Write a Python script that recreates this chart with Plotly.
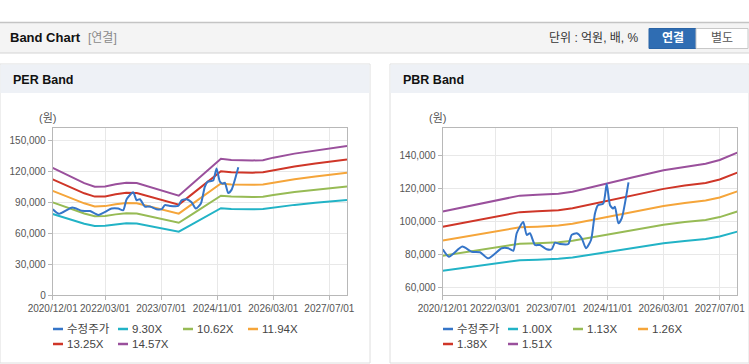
import plotly.graph_objects as go

W, H = 749, 364

# ---------------- data ----------------
price_dates = ["2020-12-01", "2021-01-25", "2021-05-20", "2021-08-10", "2021-10-21", "2022-01-01",
               "2022-04-27", "2022-06-23", "2022-08-06", "2022-09-04", "2022-10-31", "2022-11-30",
               "2022-12-28", "2023-02-10", "2023-03-25", "2023-05-22", "2023-07-05", "2023-08-02",
               "2023-09-15", "2023-11-26", "2023-12-25", "2024-02-07", "2024-03-21", "2024-04-27",
               "2024-06-10", "2024-07-14", "2024-08-09", "2024-09-24", "2024-10-24", "2024-11-22",
               "2024-12-18", "2025-01-04", "2025-02-02", "2025-03-03", "2025-05-01"]
price_values = [83300, 78800, 84900, 81800, 81500, 77800,
                83900, 83900, 82400, 93000, 99800, 92000,
                93000, 85900, 85900, 83300, 83300, 87300,
                86500, 86500, 92000, 93000, 90000, 83900,
                88900, 105000, 110000, 111000, 122800, 110000,
                108000, 109000, 99000, 102000, 123800]

per_band_dates = ["2020-12-01", "2021-03-01", "2021-06-01", "2021-09-01", "2021-12-01", "2022-03-01",
                  "2022-06-01", "2022-09-01", "2022-12-01", "2023-03-01", "2023-06-01", "2023-09-01",
                  "2023-12-01", "2024-03-01", "2024-06-01", "2024-09-01", "2024-12-01", "2025-03-01",
                  "2025-06-01", "2025-09-01", "2025-12-01", "2026-03-01", "2026-09-01", "2027-03-01",
                  "2027-09-01", "2027-12-01"]
per_930 = [78700, 75500, 72400, 69300, 67000, 67200, 68600, 69600, 69400, 67400, 65400, 63400,
           61500, 67200, 72900, 78600, 84300, 83600, 83300, 83300, 83500, 85000, 87500, 89500,
           91500, 92300]
per_1062 = [89900, 86200, 82700, 79100, 76500, 76700, 78300, 79500, 79200, 77000, 74700, 72400,
            70200, 76700, 83200, 89800, 96300, 95500, 95100, 95100, 95300, 97100, 99900, 102200,
            104500, 105400]
per_1194 = [101000, 96900, 93000, 89000, 86000, 86300, 88100, 89400, 89100, 86500, 84000, 81400,
            79000, 86300, 93600, 100900, 108200, 107300, 106900, 106900, 107200, 109100, 112300, 114900,
            117500, 118500]
per_1325 = [112100, 107600, 103100, 98700, 95500, 95700, 97700, 99200, 98900, 96000, 93200, 90300,
            87600, 95700, 103900, 112000, 120100, 119100, 118700, 118700, 119000, 121100, 124700, 127500,
            130400, 131500]
per_1457 = [123300, 118300, 113400, 108600, 105000, 105300, 107500, 109000, 108700, 105600, 102500, 99300,
            96400, 105300, 114200, 123100, 132100, 131000, 130500, 130500, 130800, 133200, 137100, 140200,
            143400, 144600]
per_labels = ["수정주가", "9.30X", "10.62X", "11.94X", "13.25X", "14.57X"]

pbr_band_dates = ["2020-12-01", "2021-06-01", "2021-12-01", "2022-06-01", "2022-10-01", "2023-03-01",
                  "2023-09-01", "2024-01-01", "2024-06-01", "2024-11-01", "2025-06-01", "2026-03-01",
                  "2026-09-01", "2027-03-01", "2027-07-01", "2027-12-01"]
pbr_100 = [70300, 72000, 73800, 75500, 76700, 77000, 77500, 78300, 80000, 81800, 84000, 86900,
           88300, 89500, 91000, 94000]
pbr_113 = [79400, 81400, 83400, 85300, 86700, 87000, 87600, 88500, 90400, 92400, 94900, 98200,
           99800, 101100, 102800, 106200]
pbr_126 = [88600, 90700, 93000, 95100, 96600, 97000, 97700, 98700, 100800, 103100, 105800, 109500,
           111300, 112800, 114700, 118400]
pbr_138 = [97000, 99400, 101800, 104200, 105800, 106300, 107000, 108100, 110400, 112900, 115900, 119900,
           121900, 123500, 125600, 129700]
pbr_151 = [106200, 108700, 111400, 114000, 115800, 116300, 117000, 118200, 120800, 123500, 126800, 131200,
           133300, 135100, 137400, 141900]
pbr_labels = ["수정주가", "1.00X", "1.13X", "1.26X", "1.38X", "1.51X"]

x_tick_vals = ["2020-12-01", "2022-03-01", "2023-07-01", "2024-11-01", "2026-03-01", "2027-07-01"]
x_tick_text = ["2020/12/01", "2022/03/01", "2023/07/01", "2024/11/01", "2026/03/01", "2027/07/01"]
x_range = ["2020-12-01", "2027-12-01"]
per_y_ticks = [0, 30000, 60000, 90000, 120000, 150000]
pbr_y_ticks = [60000, 80000, 100000, 120000, 140000]

# ---------------- styles ----------------
series_colors = ["#3575c8", "#22b3c6", "#97bb55", "#f5a53a", "#cf3628", "#9a509c"]
FONT = "Liberation Sans, Noto Sans CJK KR, sans-serif"
TICKFONT = "Liberation Sans Narrow, Liberation Sans, sans-serif"


def px(x):
    return x / W


def py(y):
    return 1 - y / H


fig = go.Figure()

per_bands = [per_930, per_1062, per_1194, per_1325, per_1457]
pbr_bands = [pbr_100, pbr_113, pbr_126, pbr_138, pbr_151]

for i, vals in enumerate(per_bands):
    fig.add_trace(go.Scatter(x=per_band_dates, y=vals, mode="lines", name=per_labels[i + 1],
                             line=dict(color=series_colors[i + 1], width=2),
                             xaxis="x", yaxis="y", showlegend=False))
fig.add_trace(go.Scatter(x=price_dates, y=price_values, mode="lines", name=per_labels[0],
                         line=dict(color=series_colors[0], width=2, shape="spline", smoothing=0.6),
                         xaxis="x", yaxis="y", showlegend=False))

for i, vals in enumerate(pbr_bands):
    fig.add_trace(go.Scatter(x=pbr_band_dates, y=vals, mode="lines", name=pbr_labels[i + 1],
                             line=dict(color=series_colors[i + 1], width=2),
                             xaxis="x2", yaxis="y2", showlegend=False))
fig.add_trace(go.Scatter(x=price_dates, y=price_values, mode="lines", name=pbr_labels[0],
                         line=dict(color=series_colors[0], width=2, shape="spline", smoothing=0.6),
                         xaxis="x2", yaxis="y2", showlegend=False))

axis_common = dict(showgrid=True, gridcolor="#e8e8e8", gridwidth=1, showline=True, mirror=True,
                   linecolor="#b8b8b8", linewidth=1, ticks="outside", ticklen=4, tickcolor="#b8b8b8",
                   tickfont=dict(family=TICKFONT, size=10, color="#555555"), zeroline=False,
                   fixedrange=True, automargin=False, tickangle=0)

y_dom = [py(295.3), py(128.3)]

fig.update_layout(
    width=W, height=H, autosize=False,
    margin=dict(l=0, r=0, t=0, b=0, pad=0),
    paper_bgcolor="#ffffff", plot_bgcolor="#ffffff",
    showlegend=False,
    font=dict(family=FONT, size=11, color="#333333"),
    xaxis=dict(domain=[px(52.7), px(347)], range=x_range, type="date",
               tickvals=x_tick_vals, ticktext=x_tick_text, anchor="y", **axis_common),
    yaxis=dict(domain=y_dom, range=[0, 161600], tickvals=per_y_ticks, tickformat=",",
               anchor="x", **axis_common),
    xaxis2=dict(domain=[px(442.7), px(737.3)], range=x_range, type="date",
                tickvals=x_tick_vals, ticktext=x_tick_text, anchor="y2", **axis_common),
    yaxis2=dict(domain=y_dom, range=[55400, 156600], tickvals=pbr_y_ticks, tickformat=",",
                anchor="x2", **axis_common),
)

shapes = []
annotations = []


def rect(x0, y0, x1, y1, fill, line_color=None, lw=0):
    shapes.append(dict(type="rect", xref="paper", yref="paper", layer="below",
                       x0=px(x0), x1=px(x1), y0=py(y1), y1=py(y0), fillcolor=fill,
                       line=dict(color=line_color or fill, width=lw)))


def hline(x0, x1, y, color, lw=1, layer="below"):
    shapes.append(dict(type="line", xref="paper", yref="paper", layer=layer,
                       x0=px(x0), x1=px(x1), y0=py(y), y1=py(y), line=dict(color=color, width=lw)))


def text(x, y, s, size=11, color="#333333", bold=False, anchor="left", family=FONT):
    annotations.append(dict(xref="paper", yref="paper", x=px(x), y=py(y), text=(f"<b>{s}</b>" if bold else s),
                            showarrow=False, xanchor=anchor, yanchor="middle",
                            font=dict(family=family, size=size, color=color)))


# header bar
rect(0, 22, 749, 53, "#f4f4f4")
hline(0, 749, 22.5, "#c4c4c4", 1.5)
hline(0, 749, 53, "#d4d4d4", 1)
text(8, 38, "Band Chart", size=13, color="#111111", bold=True)
text(86, 38, "[연결]", size=12, color="#8a8a8a")
text(641, 38, "단위 : 억원, 배, %", size=12, color="#333333", anchor="right")
rect(649, 28.5, 696, 48.5, "#2f6db3", "#2a64a6", 1)
text(672.5, 38.5, "연결", size=12, color="#ffffff", bold=True, anchor="center")
rect(696, 28.5, 748, 48.5, "#ffffff", "#c8c8c8", 1)
text(722, 38.5, "별도", size=12, color="#555555", anchor="center")

# panels
for (x0, x1, title) in [(0, 370, "PER Band"), (390, 749, "PBR Band")]:
    rect(x0, 64, x1, 363, "#ffffff", "#dedede", 1)
    rect(x0 + 0.5, 64.5, x1 - 0.5, 93, "#eef1f6")
    text(x0 + 11, 80, title, size=12.5, color="#111111", bold=True)

text(47, 118, "(원)", size=11, color="#555555", anchor="center")
text(437, 118, "(원)", size=11, color="#555555", anchor="center")

# legends (swatches + labels)
for labels, x_start in [(per_labels, 53), (pbr_labels, 443)]:
    for i, lab in enumerate(labels):
        row, col = divmod(i, 4)
        lx = x_start + 65 * col
        ly = 329 + 15 * row
        hline(lx, lx + 10, ly, series_colors[i], 2.5, layer="above")
        text(lx + 12, ly, lab, size=11.5, color="#444444")

fig.update_layout(shapes=shapes, annotations=annotations)

fig.write_html("out.html", config={"displayModeBar": False},
               post_script="document.body.style.margin='0';")
